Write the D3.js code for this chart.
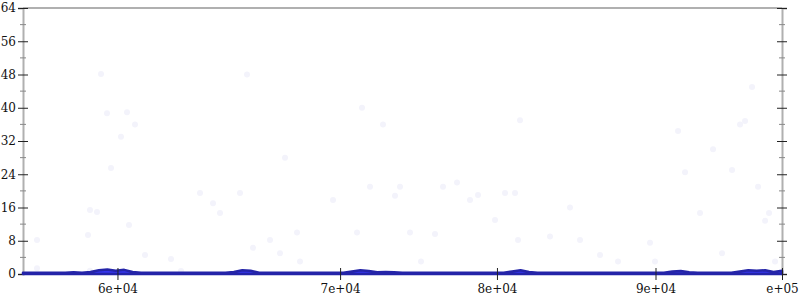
<!DOCTYPE html>
<html lang='en'>
<head>
    <meta charset='UTF-8'>
    <title>chart</title>
    <script src='https://cdnjs.cloudflare.com/ajax/libs/d3/7.8.5/d3.min.js'></script>
    <style>
        body { margin: 0; background: #fff; }
        text { font-family: 'DejaVu Serif', serif; font-size: 12px; fill: #111; }
    </style>
</head>
<body>
    <div id='anchor'></div>
    <script>
        // blue series, one value every 500 from 55000 to 100000
        const seriesStart = 55000;
        const seriesStep = 500;
        const seriesValues = [
            0.3, 0.3, 0.3, 0.3, 0.3, 0.3, 0.4, 0.3, 0.5, 0.9,
            1.1, 0.8, 1.0, 0.5, 0.3, 0.3, 0.3, 0.3, 0.3, 0.3,
            0.3, 0.3, 0.3, 0.3, 0.3, 0.5, 0.9, 0.8, 0.3, 0.3,
            0.3, 0.3, 0.3, 0.3, 0.3, 0.3, 0.3, 0.3, 0.3, 0.6,
            0.9, 0.7, 0.4, 0.5, 0.4, 0.3, 0.3, 0.3, 0.3, 0.3,
            0.3, 0.3, 0.3, 0.3, 0.3, 0.3, 0.3, 0.3, 0.6, 0.9,
            0.5, 0.3, 0.3, 0.3, 0.3, 0.3, 0.3, 0.3, 0.3, 0.3,
            0.3, 0.3, 0.3, 0.3, 0.3, 0.3, 0.3, 0.6, 0.7, 0.4,
            0.3, 0.3, 0.3, 0.3, 0.3, 0.6, 0.9, 0.8, 0.9, 0.5,
            0.8
        ];

        // faint scattered points
        const dotX = [55830, 55830, 58854, 58972, 59387, 59625, 59980, 60218, 60810, 61166,
            61285, 61640, 62233, 63775, 64368, 58972, 65494, 66265, 66680, 67866,
            68281, 68637, 69645, 70237, 70534, 71245, 71423, 73380, 74803, 75100,
            75574, 76344, 77056, 77352, 77945, 78597, 79427, 79902, 80732, 81502,
            81977, 82985, 83578, 84171, 84349, 84467, 86246, 87432, 88025, 89211,
            90278, 92175, 92472, 93836, 94251, 95140, 95911, 96445, 97038, 97512,
            97809, 98224, 98580, 98995, 99232, 99588];
        const dotY = [8.2, 1.4, 9.4, 15.4, 14.9, 48.1, 38.7, 25.5, 33.0, 38.9,
            11.8, 36.0, 4.6, 3.6, 0.7, 0.8, 19.5, 17.0, 14.7, 19.5,
            48.0, 6.3, 8.2, 5.0, 28.0, 10.0, 3.0, 17.8, 10.0, 40.0,
            21.0, 36.0, 18.8, 21.0, 10.0, 3.0, 9.6, 21.0, 22.0, 17.8,
            19.0, 13.0, 19.5, 19.5, 8.2, 37.0, 9.0, 16.0, 8.2, 4.6,
            3.0, 7.5, 3.0, 34.4, 24.5, 14.7, 30.0, 5.0, 25.0, 36.0,
            36.8, 45.0, 21.0, 12.8, 14.7, 3.0];

        const xDomain = [55000, 100000];
        const xTicks = [60600, 73800, 83100, 92500, 100000];
        const xTickLabels = ['6e+04', '7e+04', '8e+04', '9e+04', 'e+05'];
        const yDomain = [0, 64];
        const yMajorTicks = [0, 8, 16, 24, 32, 40, 48, 56, 64];
        const yMinorTicks = [4, 12, 20, 28, 36, 44, 52, 60];

        const width = 800, height = 300;
        const margin = { top: 8, right: 18, bottom: 26, left: 23 };

        const svg = d3.select('#anchor').append('svg')
            .attr('width', width)
            .attr('height', height);

        const x = d3.scaleLinear().domain(xDomain).range([margin.left, width - margin.right]);
        const y = d3.scaleLinear().domain(yDomain).range([height - margin.bottom, margin.top]);

        // faint points
        svg.append('g')
            .selectAll('circle')
            .data(dotX.map((d, i) => [d, dotY[i]]))
            .join('circle')
            .attr('cx', d => x(d[0]))
            .attr('cy', d => y(d[1]))
            .attr('r', 3)
            .attr('fill', '#f3f3fb');

        // frame lines
        const frame = svg.append('g').attr('stroke', '#b0b0b0').attr('stroke-width', 2);
        frame.append('line')
            .attr('x1', x(xDomain[0])).attr('x2', x(xDomain[1]))
            .attr('y1', y(yDomain[1])).attr('y2', y(yDomain[1]));

        function yAxis(sel, side) {
            const axis = (side === 'left' ? d3.axisLeft(y) : d3.axisRight(y));
            sel.call(axis.tickValues(yMajorTicks).tickSize(5).tickFormat(side === 'left' ? d3.format('d') : ''));
            sel.select('.domain').attr('stroke', '#b0b0b0').attr('stroke-width', 2);
            sel.selectAll('.tick line')
                .attr('x1', side === 'left' ? 5 : -5)
                .attr('stroke', '#222');
            sel.selectAll('.tick text').attr('x', -7);
            sel.attr('font-family', null).attr('font-size', null);
            sel.append('g')
                .selectAll('line')
                .data(yMinorTicks)
                .join('line')
                .attr('x1', -3).attr('x2', 3)
                .attr('y1', d => y(d)).attr('y2', d => y(d))
                .attr('stroke', '#888');
        }

        svg.append('g')
            .attr('transform', `translate(${x(xDomain[0])},0)`)
            .call(yAxis, 'left');
        svg.append('g')
            .attr('transform', `translate(${x(xDomain[1])},0)`)
            .call(yAxis, 'right');

        // blue area
        const series = seriesValues.map((v, i) => [seriesStart + i * seriesStep, v]);
        svg.append('path')
            .datum(series)
            .attr('fill', '#3434ee')
            .attr('stroke', '#2424a8')
            .attr('stroke-width', 2.5)
            .attr('stroke-linejoin', 'round')
            .attr('d', d3.area()
                .x(d => x(d[0]))
                .y0(y(0))
                .y1(d => y(d[1])));

        // x axis
        const xAxis = svg.append('g')
            .attr('transform', `translate(0,${y(0)})`)
            .call(d3.axisBottom(x).tickValues(xTicks).tickSize(6)
                .tickFormat((d, i) => xTickLabels[i]));
        xAxis.select('.domain').remove();
        xAxis.attr('font-family', null).attr('font-size', null);
        xAxis.selectAll('.tick line').attr('y1', -6).attr('stroke', '#222');
        xAxis.selectAll('.tick text').attr('y', 10).attr('dy', '0.71em');
    </script>
</body>
</html>
